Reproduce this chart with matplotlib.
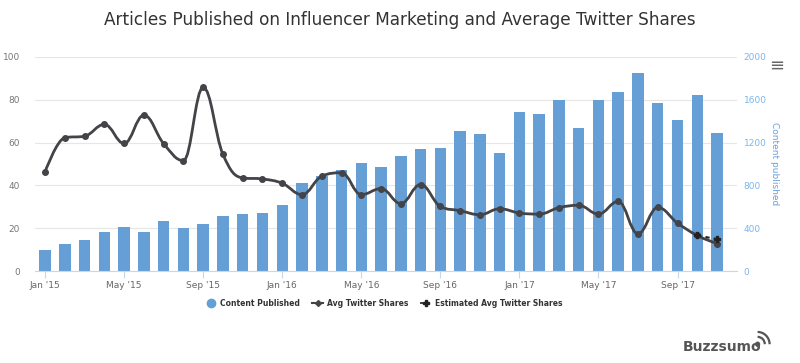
import numpy as np
import matplotlib
matplotlib.use("Agg")
import matplotlib.pyplot as plt
from matplotlib.path import Path
from matplotlib.patches import PathPatch, Arc, Circle
from matplotlib.lines import Line2D

# monthly data, Jan 2015 .. Nov 2017
content_published = [196, 256, 288, 360, 414, 360, 470, 398, 444, 516, 532, 542,
                     614, 822, 886, 948, 1011, 973, 1073, 1140, 1150, 1306, 1277, 1100,
                     1484, 1465, 1600, 1334, 1600, 1670, 1850, 1572, 1410, 1648, 1290]
avg_shares = [46.3, 62.3, 63.0, 68.5, 59.6, 72.8, 59.5, 51.6, 85.8, 54.5, 43.5, 43.0,
              41.0, 35.7, 44.3, 45.9, 35.7, 38.5, 31.5, 40.4, 30.2, 28.2, 26.3, 29.1,
              27.1, 26.6, 29.6, 30.7, 26.6, 32.5, 17.4, 29.7, 22.4, 16.6, 12.8]
est_index = [33, 34]
est_shares = [16.6, 14.9]

tick_months = [0, 4, 8, 12, 16, 20, 24, 28, 32]
tick_labels = ["Jan '15", "May '15", "Sep '15", "Jan '16", "May '16",
               "Sep '16", "Jan '17", "May '17", "Sep '17"]

BAR = '#659fd6'
LINE = '#434348'
GRID = '#e6e6e6'


def spline_path(xs, ys, smoothing=1.5):
    # highcharts-style spline through the points
    n = len(xs)
    left = [(xs[i], ys[i]) for i in range(n)]
    right = [(xs[i], ys[i]) for i in range(n)]
    d = smoothing + 1
    for i in range(1, n - 1):
        px, py = xs[i], ys[i]
        lx, ly = xs[i - 1], ys[i - 1]
        nx, ny = xs[i + 1], ys[i + 1]
        lcx, lcy = (smoothing * px + lx) / d, (smoothing * py + ly) / d
        rcx, rcy = (smoothing * px + nx) / d, (smoothing * py + ny) / d
        if rcx != lcx:
            corr = ((rcy - lcy) * (rcx - px)) / (rcx - lcx) + py - rcy
            lcy += corr
            rcy += corr
        if lcy > ly and lcy > py:
            lcy = max(ly, py)
            rcy = 2 * py - lcy
        elif lcy < ly and lcy < py:
            lcy = min(ly, py)
            rcy = 2 * py - lcy
        if rcy > ny and rcy > py:
            rcy = max(ny, py)
            lcy = 2 * py - rcy
        elif rcy < ny and rcy < py:
            rcy = min(ny, py)
            lcy = 2 * py - rcy
        left[i] = (lcx, lcy)
        right[i] = (rcx, rcy)
    verts = [(xs[0], ys[0])]
    codes = [Path.MOVETO]
    for i in range(1, n):
        verts += [right[i - 1], left[i], (xs[i], ys[i])]
        codes += [Path.CURVE4] * 3
    return Path(verts, codes)


fig = plt.figure(figsize=(8, 3.63), dpi=100)
ax = fig.add_axes([0.044, 0.2534, 0.877, 0.5896])
ax2 = ax.twinx()

x = np.arange(len(content_published))

# bars on the right axis, grid lives there so it stays behind the bars
ax2.bar(x, content_published, width=0.58, color=BAR, zorder=2)
ax2.set_ylim(0, 2000)
ax2.set_yticks([0, 400, 800, 1200, 1600, 2000])
ax2.grid(axis='y', color=GRID, lw=0.8, zorder=0)
ax2.set_axisbelow(True)

ax.set_zorder(ax2.get_zorder() + 1)
ax.patch.set_visible(False)

ax.set_xlim(-0.5, 35.0)
ax.set_ylim(0, 100)
ax.set_yticks([0, 20, 40, 60, 80, 100])

ax.add_patch(PathPatch(spline_path(x, avg_shares), fill=False, ec=LINE, lw=2, zorder=3))
ax.plot(x, avg_shares, ls='none', marker='o', ms=4, color=LINE, zorder=4)
ax.add_patch(PathPatch(spline_path(np.array(est_index, float), est_shares), fill=False,
                       ec='#222222', lw=1.5, ls=(0, (2, 2)), zorder=3))
ax.plot(est_index, est_shares, ls='none', marker='P', ms=5, color='#222222', zorder=4)

ax.set_xticks(tick_months)
ax.set_xticklabels(tick_labels)
for a in (ax, ax2):
    for s in a.spines.values():
        s.set_visible(False)
ax.spines['bottom'].set_visible(True)
ax.spines['bottom'].set_color('#ccd6eb')
ax.tick_params(axis='x', length=5, color='#ccd6eb', labelsize=6.5, labelcolor='#666666', pad=2)
ax.tick_params(axis='y', length=0, labelsize=6.5, labelcolor='#777777', pad=11)
ax2.tick_params(axis='y', length=0, labelsize=6.5, labelcolor='#7cb5ec', pad=5)

fig.text(0.968, 0.55, 'Content published', rotation=270, ha='center', va='center',
         fontsize=6.5, color='#6a9fd6')

fig.text(0.5, 0.946, 'Articles Published on Influencer Marketing and Average Twitter Shares',
         ha='center', va='center', fontsize=12.2, color='#333333')

fig.text(0.971, 0.82, '\u2261', ha='center', va='center', fontsize=13, color='#666666')

handles = [
    Line2D([], [], ls='none', marker='o', ms=6, color=BAR),
    Line2D([], [], color=LINE, lw=1.5, marker='D', ms=3),
    Line2D([], [], color='#222222', lw=1.2, ls=(0, (2, 1.5)), marker='P', ms=4),
]
fig.legend(handles, ['Content Published', 'Avg Twitter Shares', 'Estimated Avg Twitter Shares'],
           loc='center', bbox_to_anchor=(0.48, 0.165), ncol=3, frameon=False,
           prop={'size': 5.5, 'weight': 'bold'}, labelcolor='#333333',
           handlelength=1.4, handletextpad=0.5, columnspacing=1.6)

fig.text(0.853, 0.045, 'Buzzsumo', ha='left', va='center', fontsize=10,
         fontweight='bold', color='#555555')
icon = fig.add_axes([0.944, 0.045, 0.02, 0.045])
icon.set_xlim(0, 1)
icon.set_ylim(0, 1)
icon.axis('off')
icon.add_patch(Circle((0.15, 0.15), 0.12, color='#555555'))
for r in (0.45, 0.75):
    icon.add_patch(Arc((0.15, 0.15), 2 * r, 2 * r, theta1=0, theta2=90, lw=1.6, color='#555555'))

fig.savefig('out.png', dpi=100)
